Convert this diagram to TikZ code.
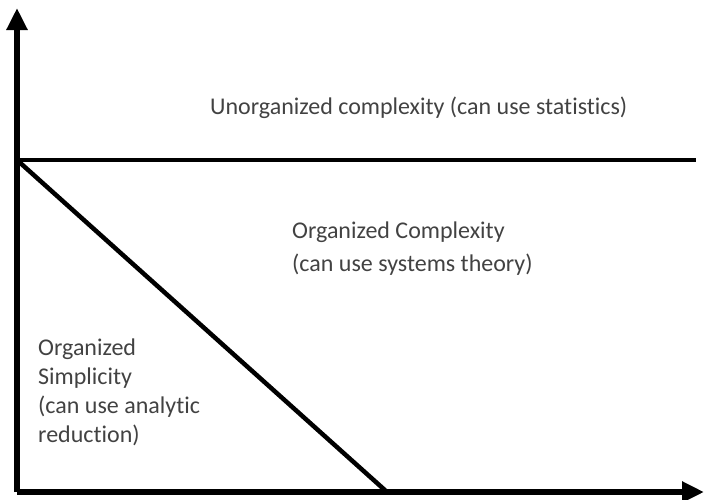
\documentclass[tikz,border=0pt]{standalone}
\usepackage{fontspec}
\setmainfont{Carlito}[Ligatures=NoCommon]
\usetikzlibrary{arrows.meta}
\begin{document}
\begin{tikzpicture}[x=1pt,y=-1pt,
  axis/.style={line width=5.5pt,-{Triangle[length=22pt,width=20pt]}},
  divider/.style={line width=4.5pt},
  region/.style={text=black!74,align=left,inner sep=0pt}]
  \useasboundingbox (0,0) rectangle (704,499);
  % axes
  \coordinate (O) at (17,492);
  \coordinate (ytop) at (17,8);
  \coordinate (xend) at (704,492);
  \draw[axis] (O) -- (ytop);
  \draw[axis] (O) -- (xend);
  % region boundaries
  \coordinate (A) at (17,160);
  \coordinate (B) at (696,160);
  \coordinate (C) at (387,492);
  \draw[divider] (A) -- (B);
  \draw[divider,line cap=round] (A) -- (C);
  % region labels
  \node[region,anchor=base west,font=\fontsize{24}{30}\selectfont] (unorg) at (210,114)
    {Unorganized complexity (can use statistics)};
  \node[region,anchor=north west,font=\fontsize{24}{33}\selectfont] (orgc) at (292,222)
    {Organized Complexity\\(can use systems theory)};
  \node[region,anchor=north west,font=\fontsize{24}{29}\selectfont] (orgs) at (38,339)
    {Organized\\Simplicity\\(can use analytic\\reduction)};
\end{tikzpicture}
\end{document}
